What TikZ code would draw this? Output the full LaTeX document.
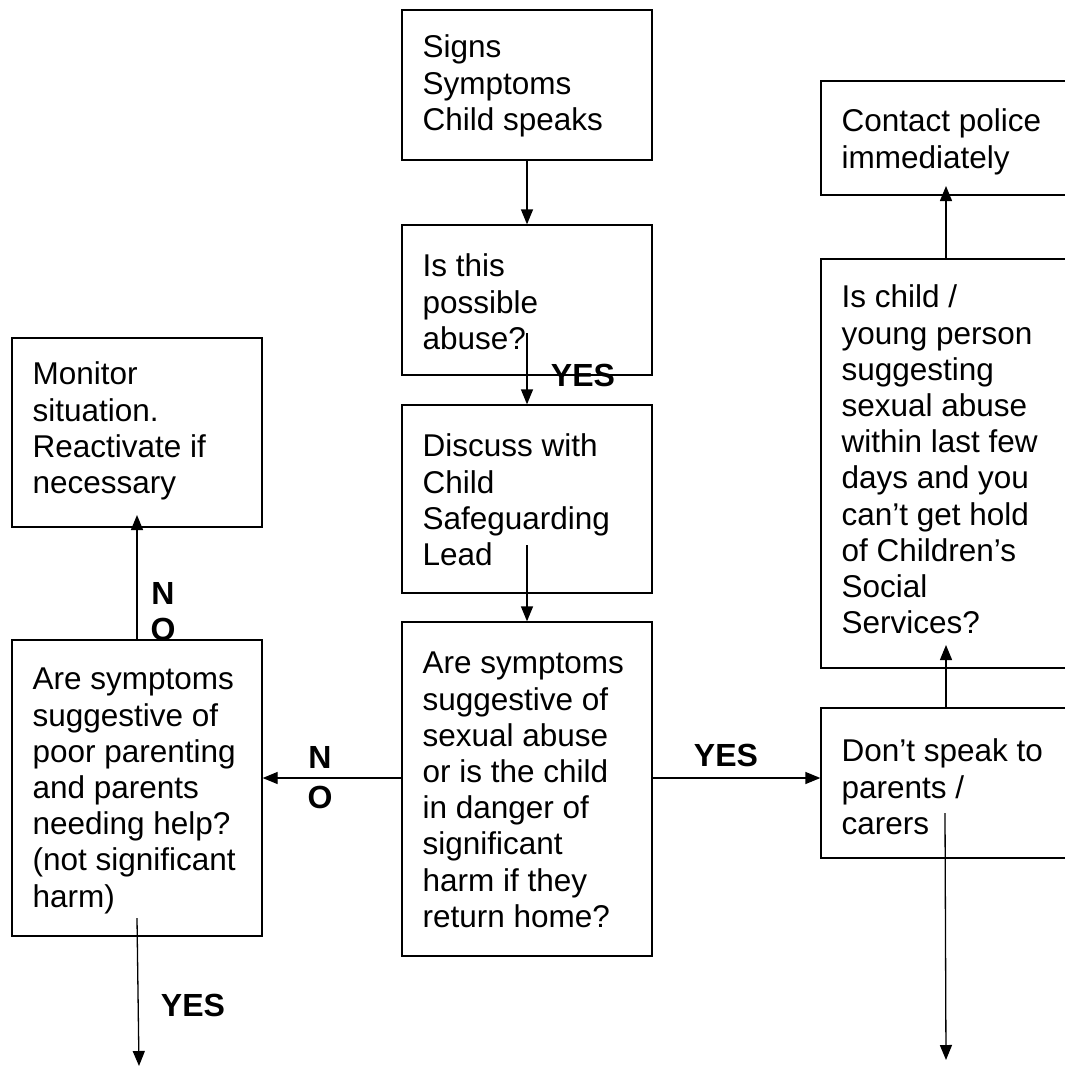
\documentclass[tikz,border=0pt]{standalone}
\usepackage{fontspec}
\setmainfont{Liberation Sans}
\usetikzlibrary{arrows.meta}
\begin{document}
\begin{tikzpicture}[x=1pt,y=-1pt,
 box/.style={draw, line width=1.3pt, rectangle, inner sep=0pt, minimum width=250pt},
 txt/.style={anchor=north west, inner sep=0pt, align=left, font=\fontsize{31.5}{36.2}\selectfont},
 lbl/.style={inner sep=0pt, font=\bfseries\fontsize{32}{36}\selectfont},
 arr/.style={line width=1.3pt, -{Triangle[width=12pt,length=15pt]}}]
\useasboundingbox (0,0) rectangle (1065,1068);
\fill[white] (0,0) rectangle (1065,1068);
\clip (0,0) rectangle (1065,1068);

% boxes
\node[box, minimum height=150pt] (b1) at (527,85) {};
\node[box, minimum height=150pt] (b2) at (527,300) {};
\node[box, minimum height=188pt] (b3) at (527,499) {};
\node[box, minimum height=334pt] (b4) at (527,789) {};
\node[box, minimum height=189pt] (b5) at (137,432.5) {};
\node[box, minimum height=296pt] (b6) at (137,788) {};
\node[box, minimum height=114pt] (b7) at (946,138) {};
\node[box, minimum height=409pt] (b8) at (946,463.5) {};
\node[box, minimum height=150pt] (b9) at (946,783) {};

% texts
\node[txt] (t1) at ([xshift=21pt,yshift=-23pt]b1.north west) {\strut Signs\\Symptoms\\Child speaks};
\node[txt] (t2) at ([xshift=21pt,yshift=-27pt]b2.north west) {\strut Is this\\possible\\abuse?};
\node[txt] (t3) at ([xshift=21pt,yshift=-27pt]b3.north west) {\strut Discuss with\\Child\\Safeguarding\\Lead};
\node[txt] (t4) at ([xshift=21pt,yshift=-27pt]b4.north west) {\strut Are symptoms\\suggestive of\\sexual abuse\\or is the child\\in danger of\\significant\\harm if they\\return home?};
\node[txt] (t5) at ([xshift=21pt,yshift=-22pt]b5.north west) {\strut Monitor\\situation.\\Reactivate if\\necessary};
\node[txt] (t6) at ([xshift=21pt,yshift=-25pt]b6.north west) {\strut Are symptoms\\suggestive of\\poor parenting\\and parents\\needing help?\\(not significant\\harm)};
\node[txt] (t7) at ([xshift=21pt,yshift=-26pt]b7.north west) {\strut Contact police\\immediately};
\node[txt] (t8) at ([xshift=21pt,yshift=-24pt]b8.north west) {\strut Is child /\\young person\\suggesting\\sexual abuse\\within last few\\days and you\\can’t get hold\\of Children’s\\Social\\Services?};
\node[txt] (t9) at ([xshift=21pt,yshift=-29pt]b9.north west) {\strut Don’t speak to\\parents /\\carers};

% connectors
\coordinate (s2) at (527,333);
\coordinate (s3) at (527,545);
\coordinate (ya) at (0,778);
\coordinate (e6) at (137,515);
\coordinate (s6) at (137,918);
\coordinate (e6b) at (139,1066);
\coordinate (e8) at (946,645);
\coordinate (e7) at (946,186);
\coordinate (s9) at (945,813);
\coordinate (e9) at (946,1060);

\draw[arr] (b1.south) -- (b2.north);
\draw[arr] (s2) -- (b3.north);
\draw[arr] (s3) -- (b4.north);
\draw[arr] (b4.west |- ya) -- (b6.east |- ya);
\draw[arr] (b4.east |- ya) -- (b9.west |- ya);
\draw[arr] (b6.north) -- (e6);
\draw[arr] (s6) -- (e6b);
\draw[arr] (b9.north) -- (e8);
\draw[arr] (b8.north) -- (e7);
\draw[arr] (s9) -- (e9);

% labels
\node[lbl] (yes1) at (583,375) {YES};
\node[lbl] (n1) at (320,757) {N};
\node[lbl] (o1) at (320,797) {O};
\node[lbl] (yes2) at (726,755) {YES};
\node[lbl] (n2) at (163,593) {N};
\node[lbl] (o2) at (163,629) {O};
\node[lbl] (yes3) at (193,1005) {YES};
\end{tikzpicture}
\end{document}
